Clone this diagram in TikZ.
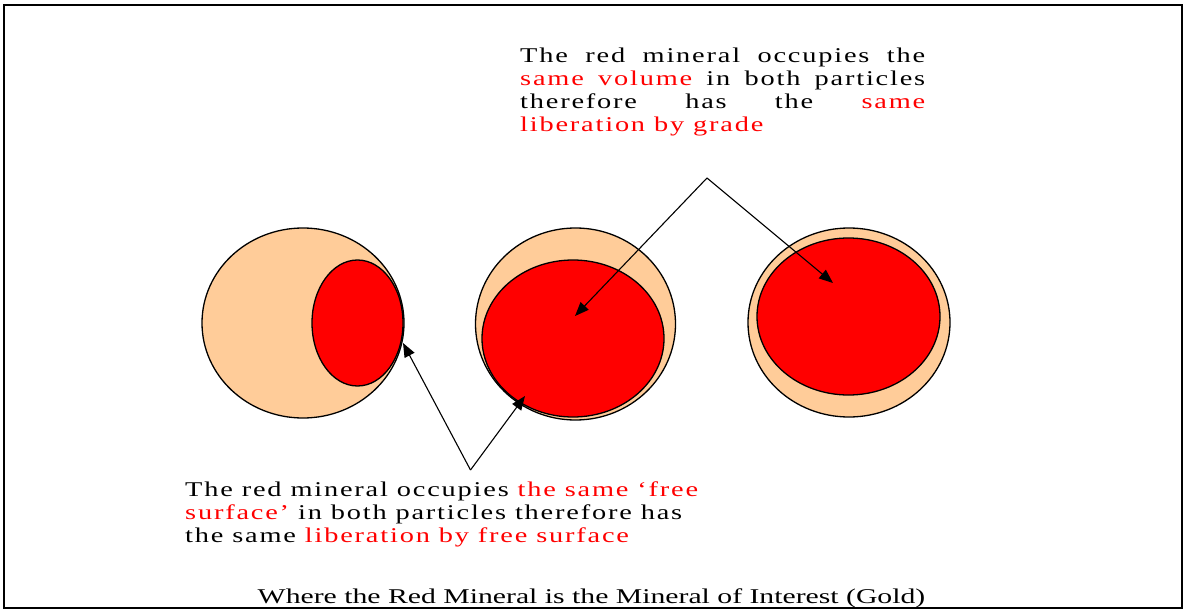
\documentclass[tikz,border=0pt]{standalone}
\usepackage{fontspec}
\setmainfont{Liberation Serif}
\usepackage{graphicx}
\usetikzlibrary{arrows.meta}
\definecolor{beige}{HTML}{FFCC99}
\definecolor{mred}{HTML}{FF0000}
\tikzset{
  particle/.style={draw=black, line width=1.3pt, fill=beige},
  grain/.style={draw=black, line width=1.3pt, fill=mred},
  pointer/.style={draw=black, line width=1.1pt, -{Triangle[length=14pt,width=11pt]}},
  note/.style={inner sep=0pt, anchor=base west, align=left},
}
\newcommand{\rd}[1]{\textcolor{mred}{#1}}
\newcommand{\notefont}{\fontsize{21}{23.2}\selectfont\addfontfeature{LetterSpace=6.4}}
\begin{document}
\begin{tikzpicture}[x=1pt,y=-1pt]
\useasboundingbox (0,0) rectangle (1184,610);
\draw[line width=1.5pt] (4,5) rectangle (1182,608);
% particles
\path[particle] (303,323) ellipse [x radius=101, y radius=95];
\path[grain] (357.5,323) ellipse [x radius=45.5, y radius=63];
\path[particle] (575.5,324) ellipse [x radius=100, y radius=96];
\path[grain] (573,338.5) ellipse [x radius=91, y radius=78.5];
\path[particle] (849,322.5) ellipse [x radius=101, y radius=94.5];
\path[grain] (848.5,316.5) ellipse [x radius=91.5, y radius=78.5];
% connector points
\coordinate (topapex) at (707,178);
\coordinate (tipA) at (575,316);
\coordinate (tipB) at (833,283);
\coordinate (botapex) at (470.5,470);
\coordinate (tipC) at (403,343);
\coordinate (tipD) at (525,396);
\draw[pointer] (topapex) -- (tipA);
\draw[pointer] (topapex) -- (tipB);
\draw[pointer] (botapex) -- (tipC);
\draw[pointer] (botapex) -- (tipD);
% top text
\node[note] (toptext) at (520,62.3)
 {\scalebox{1.35}[1]{\parbox[t]{300pt}{\notefont The red mineral occupies the\linebreak
 \rd{same volume} in both particles\linebreak
 therefore has the \rd{same}\linebreak
 \rd{liberation by grade}}}};
% bottom text
\node[note] (bottext) at (185,496)
 {\scalebox{1.35}[1]{\parbox[t]{400pt}{\raggedright\notefont
 The red mineral occupies \rd{the same `free}\\
 \rd{surface'} in both particles therefore has\\
 the same \rd{liberation by free surface}}}};
% caption
\node[inner sep=0pt, anchor=base] (caption) at (591.5,603.3)
 {\scalebox{1.415}[1]{\fontsize{21}{24}\selectfont Where the Red Mineral is the Mineral of Interest (Gold)}};
\end{tikzpicture}
\end{document}
